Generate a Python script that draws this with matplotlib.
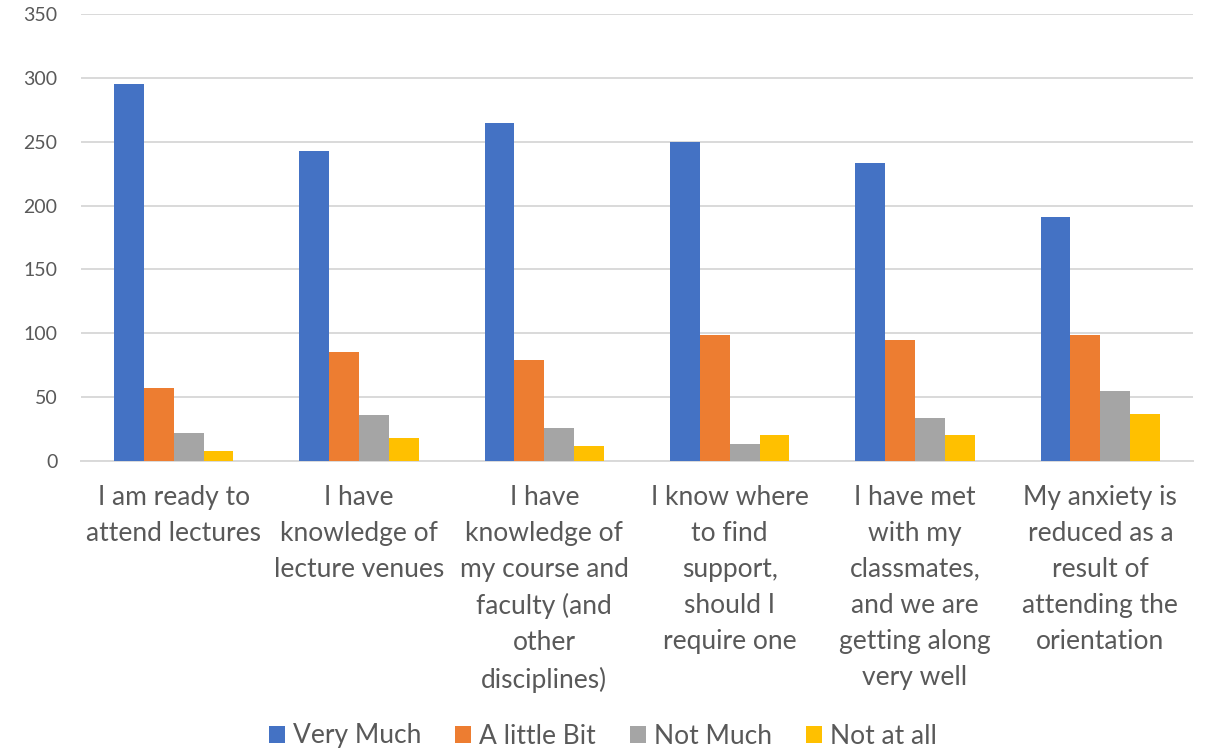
import matplotlib.pyplot as plt
import numpy as np

plt.rcParams["font.family"] = ["Lato", "DejaVu Sans"]

categories = [
    "I am ready to\nattend lectures",
    "I have\nknowledge of\nlecture venues",
    "I have\nknowledge of\nmy course and\nfaculty (and\nother\ndisciplines)",
    "I know where\nto find\nsupport,\nshould I\nrequire one",
    "I have met\nwith my\nclassmates,\nand we are\ngetting along\nvery well",
    "My anxiety is\nreduced as a\nresult of\nattending the\norientation",
]
series_names = ["Very Much", "A little Bit", "Not Much", "Not at all"]
very_much = [295, 243, 265, 250, 233, 191]
little_bit = [57, 85, 79, 99, 95, 99]
not_much = [22, 36, 26, 13, 34, 55]
not_at_all = [8, 18, 12, 20, 20, 37]
colors = ["#4472C4", "#ED7D31", "#A5A5A5", "#FFC000"]

values = [very_much, little_bit, not_much, not_at_all]
text_col = "#595959"
grid_col = "#D9D9D9"

fig = plt.figure(figsize=(12.06, 7.53), dpi=100)
ax = fig.add_axes([81 / 1206, 1 - 461 / 753, (1193 - 81) / 1206, (461 - 14) / 753])

x = np.arange(len(categories))
w = 0.161
for i, (name, vals) in enumerate(zip(series_names, values)):
    ax.bar(x + (i - 1.5) * w, vals, width=w, color=colors[i], label=name,
           zorder=3, linewidth=0)

ax.set_xlim(-0.5, len(categories) - 0.5)
ax.set_ylim(0, 350)
ax.set_yticks(np.arange(0, 351, 50))
ax.yaxis.grid(True, color=grid_col, lw=1.4, zorder=0)
ax.set_axisbelow(True)
for s in ["top", "right", "left"]:
    ax.spines[s].set_visible(False)
ax.spines["bottom"].set_color(grid_col)
ax.spines["bottom"].set_linewidth(1.4)
ax.tick_params(axis="y", length=0, pad=17, labelsize=14, labelcolor=text_col)
ax.tick_params(axis="x", length=0, pad=17)
ax.set_xticks(x)
ax.set_xticklabels(categories, fontsize=19, color=text_col,
                   linespacing=1.55, va="top")

leg = fig.legend(loc="center", bbox_to_anchor=(0.5, 1 - 736 / 753), ncol=4,
                 frameon=False, fontsize=19, handlelength=0.6,
                 handleheight=0.6, handletextpad=0.3, columnspacing=1.3)
for t in leg.get_texts():
    t.set_color(text_col)

fig.savefig("out.png", dpi=100)
